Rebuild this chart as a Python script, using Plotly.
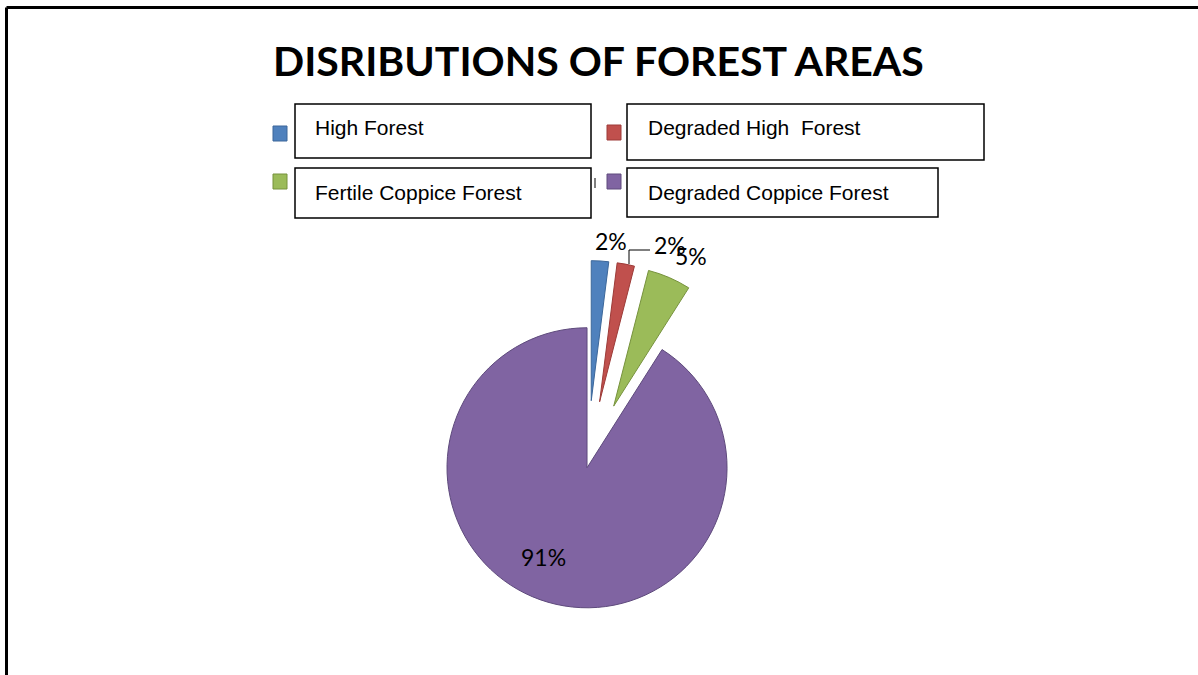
import plotly.graph_objects as go

W, H = 1198, 675

# Forest area shares (percent)
categories = ["High Forest", "Degraded High  Forest", "Fertile Coppice Forest", "Degraded Coppice Forest"]
shares = [2, 2, 5, 91]
fill_colors = ["#4F81BD", "#C0504D", "#9BBB59", "#8064A2"]
edge_colors = ["#3C679A", "#9D3B38", "#76923C", "#5E4A7C"]
pulls = [0.48, 0.48, 0.48, 0]

title_text = "DISRIBUTIONS OF FOREST AREAS"


def px_x(x):
    return x / W


def px_y(y):
    return 1 - y / H


fig = go.Figure()

fig.add_trace(go.Pie(
    labels=categories,
    values=shares,
    sort=False,
    direction="clockwise",
    rotation=0,
    pull=pulls,
    marker=dict(colors=fill_colors, line=dict(color=edge_colors, width=1)),
    textinfo="none",
    showlegend=False,
    hoverinfo="label+percent",
    domain=dict(x=[0.29, 0.69], y=[0, 0.614]),
))

shapes = []
annotations = []

# Page frame (top and left edges)
shapes.append(dict(type="line", xref="paper", yref="paper",
                   x0=px_x(6.5), x1=1.0, y0=px_y(7.5), y1=px_y(7.5),
                   line=dict(color="black", width=3)))
shapes.append(dict(type="line", xref="paper", yref="paper",
                   x0=px_x(6.5), x1=px_x(6.5), y0=px_y(7.5), y1=0,
                   line=dict(color="black", width=3)))

# Legend: colour key squares and boxed labels in a 2x2 grid
legend_boxes = [(295, 104, 591, 158), (627, 104, 984, 160),
                (295, 168, 591, 218), (627, 168, 938, 217)]
key_boxes = [(273, 126, 287, 141), (607, 125, 621, 140),
             (273, 174, 287, 189), (607, 174, 621, 189)]
label_pos = [(313, 128), (646, 128), (313, 192), (646, 192)]

for name, fc, ec, box, key, lp in zip(categories, fill_colors, edge_colors,
                                     legend_boxes, key_boxes, label_pos):
    shapes.append(dict(type="rect", xref="paper", yref="paper",
                       x0=px_x(box[0]), x1=px_x(box[2]),
                       y0=px_y(box[3]), y1=px_y(box[1]),
                       line=dict(color="black", width=1.5), fillcolor="white"))
    shapes.append(dict(type="rect", xref="paper", yref="paper",
                       x0=px_x(key[0]), x1=px_x(key[2]),
                       y0=px_y(key[3]), y1=px_y(key[1]),
                       line=dict(color=ec, width=1), fillcolor=fc))
    annotations.append(dict(text=name, xref="paper", yref="paper",
                            x=px_x(lp[0]), y=px_y(lp[1]),
                            xanchor="left", yanchor="middle", showarrow=False,
                            font=dict(family="Liberation Sans", size=21, color="black")))

# small stray tick between the lower legend boxes
shapes.append(dict(type="line", xref="paper", yref="paper",
                   x0=px_x(595), x1=px_x(595), y0=px_y(178), y1=px_y(188),
                   line=dict(color="black", width=1)))

# Percentage labels for each slice
pct_label_pos = [(611, 241), (670, 245), (691, 256), (543, 557)]
for share, (lx, ly) in zip(shares, pct_label_pos):
    annotations.append(dict(text=f"{share}%", xref="paper", yref="paper",
                            x=px_x(lx), y=px_y(ly), xanchor="center", yanchor="middle",
                            showarrow=False,
                            font=dict(family="Lato", size=23, color="black")))

# leader line from the second slice to its label
shapes.append(dict(type="path", xref="paper", yref="paper",
                   path=(f"M {px_x(629)} {px_y(264)} L {px_x(629)} {px_y(250)} "
                         f"L {px_x(650)} {px_y(250)}"),
                   line=dict(color="black", width=1)))

annotations.append(dict(text="<b>" + title_text + "</b>", xref="paper", yref="paper",
                        x=px_x(598), y=px_y(61), xanchor="center", yanchor="middle",
                        showarrow=False,
                        font=dict(family="Lato", size=41, color="black")))

fig.update_layout(
    width=W, height=H,
    margin=dict(l=0, r=0, t=0, b=0, autoexpand=False),
    paper_bgcolor="white",
    plot_bgcolor="white",
    shapes=shapes,
    annotations=annotations,
)

fig.write_html("out.html")
